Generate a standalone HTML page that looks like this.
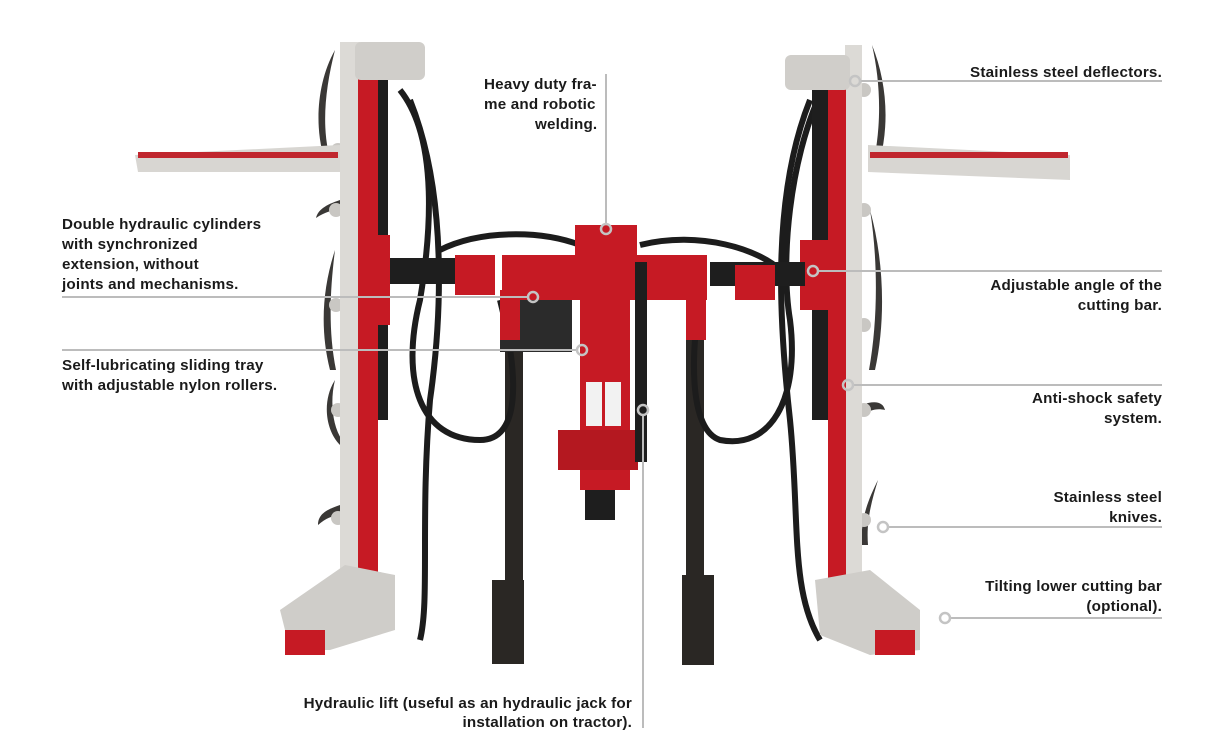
<!DOCTYPE html>
<html><head><meta charset="utf-8"><style>
html,body{margin:0;padding:0;background:#fff;}
svg{display:block}
text{font-family:"Liberation Sans",sans-serif;font-size:15.2px;font-weight:bold;fill:#1a1a1a;letter-spacing:0.2px}
</style></head><body>
<svg width="1230" height="736" viewBox="0 0 1230 736" xmlns="http://www.w3.org/2000/svg">
<!-- legs -->
<rect x="505" y="330" width="18" height="330" fill="#2a2724"/>
<rect x="492" y="580" width="32" height="84" fill="#2a2724"/>
<rect x="686" y="330" width="18" height="330" fill="#2a2724"/>
<rect x="682" y="575" width="32" height="90" fill="#2a2724"/>
<!-- hoses -->
<g fill="none" stroke="#1c1c1c" stroke-width="6">
<path d="M400 90 C440 140 430 240 420 300 C400 380 420 440 480 440 C520 440 520 380 500 300"/>
<path d="M410 100 C450 200 440 330 430 400 C420 520 430 600 420 640"/>
<path d="M820 95 C790 160 780 260 790 320 C800 400 770 450 720 440 C690 430 690 360 700 300"/>
<path d="M810 100 C770 200 780 330 790 420 C800 520 790 590 820 640"/>
<path d="M440 250 C480 230 540 230 580 245"/>
<path d="M640 245 C700 230 760 250 780 270"/>
</g>
<!-- knives -->
<g fill="#3a3836">
<path d="M335 50 C318 80 315 120 322 150 L328 150 C322 120 326 85 335 50Z"/>
<path d="M335 250 C322 290 320 330 330 370 L336 370 C328 330 330 290 335 250Z"/>
<path d="M335 380 C322 400 325 430 340 445 L342 440 C332 425 330 400 335 380Z"/>
<path d="M340 200 C325 205 318 210 316 218 C325 212 332 210 340 210Z"/>
<path d="M340 505 C325 510 318 515 318 525 C326 518 332 516 340 515Z"/>
<path d="M872 45 C886 80 890 120 880 160 L874 160 C882 120 880 80 872 45Z"/>
<path d="M870 210 C884 260 886 320 875 370 L869 370 C878 320 878 260 870 210Z"/>
<path d="M862 405 C875 400 883 402 885 410 C877 408 870 410 862 415Z"/>
<path d="M878 480 C868 500 860 520 862 545 L868 545 C866 520 872 500 878 480Z"/>
</g>
<g fill="#c9c7c3">
<circle cx="338" cy="150" r="7"/><circle cx="336" cy="210" r="7"/><circle cx="336" cy="305" r="7"/><circle cx="338" cy="410" r="7"/><circle cx="338" cy="518" r="7"/>
<circle cx="864" cy="90" r="7"/><circle cx="864" cy="210" r="7"/><circle cx="864" cy="325" r="7"/><circle cx="864" cy="410" r="7"/><circle cx="864" cy="520" r="7"/>
</g>
<!-- left assembly -->
<polygon points="135,155 340,145 340,172 138,172" fill="#d8d6d2"/>
<rect x="138" y="152" width="200" height="6" fill="#c0262e"/>
<rect x="372" y="80" width="16" height="340" fill="#1e1e1e"/>
<rect x="340" y="42" width="20" height="550" fill="#dcdad6"/>
<rect x="358" y="75" width="20" height="515" fill="#c61a24"/>
<rect x="355" y="42" width="70" height="38" rx="6" fill="#d0ceca"/>
<rect x="360" y="235" width="30" height="90" fill="#c61a24"/>
<polygon points="280,610 345,565 395,575 395,630 330,650 290,650" fill="#cfcdc9"/>
<rect x="285" y="630" width="40" height="25" fill="#c61a24"/>
<!-- right assembly -->
<polygon points="868,145 1070,155 1070,180 868,172" fill="#d8d6d2"/>
<rect x="870" y="152" width="198" height="6" fill="#c0262e"/>
<rect x="812" y="80" width="16" height="340" fill="#1e1e1e"/>
<rect x="845" y="45" width="17" height="555" fill="#dcdad6"/>
<rect x="828" y="75" width="18" height="520" fill="#c61a24"/>
<rect x="785" y="55" width="65" height="35" rx="6" fill="#d0ceca"/>
<rect x="800" y="240" width="30" height="70" fill="#c61a24"/>
<polygon points="815,580 870,570 920,610 920,650 870,655 820,635" fill="#cfcdc9"/>
<rect x="875" y="630" width="40" height="25" fill="#c61a24"/>
<!-- arms -->
<rect x="390" y="258" width="90" height="26" fill="#1e1e1e"/>
<rect x="710" y="262" width="95" height="24" fill="#1e1e1e"/>
<rect x="455" y="255" width="40" height="40" fill="#c61a24"/>
<rect x="735" y="265" width="40" height="35" fill="#c61a24"/>
<!-- center -->
<rect x="500" y="292" width="72" height="60" fill="#2b2b2b"/>
<rect x="502" y="255" width="205" height="45" fill="#c61a24"/>
<rect x="575" y="225" width="62" height="40" fill="#c61a24"/>
<rect x="500" y="290" width="20" height="50" fill="#c61a24"/>
<rect x="686" y="290" width="20" height="50" fill="#c61a24"/>
<rect x="580" y="300" width="50" height="190" fill="#c61a24"/>
<rect x="558" y="430" width="80" height="40" fill="#b41820"/>
<rect x="585" y="490" width="30" height="30" fill="#1e1e1e"/>
<rect x="586" y="382" width="16" height="44" fill="#f2f2f2"/>
<rect x="605" y="382" width="16" height="44" fill="#f2f2f2"/>
<rect x="635" y="262" width="12" height="200" fill="#1e1e1e"/>
<!-- callout lines -->
<g stroke="#bcbcbc" stroke-width="2" fill="none">
<line x1="606" y1="74" x2="606" y2="224"/>
<line x1="62" y1="297" x2="528" y2="297"/>
<line x1="62" y1="350" x2="577" y2="350"/>
<line x1="860" y1="81" x2="1162" y2="81"/>
<line x1="818" y1="271" x2="1162" y2="271"/>
<line x1="853" y1="385" x2="1162" y2="385"/>
<line x1="888" y1="527" x2="1162" y2="527"/>
<line x1="950" y1="618" x2="1162" y2="618"/>
<line x1="643" y1="415" x2="643" y2="728"/>
</g>
<g stroke="#c4c4c4" stroke-width="2.5" fill="none">
<circle cx="606" cy="229" r="5"/>
<circle cx="533" cy="297" r="5"/>
<circle cx="582" cy="350" r="5"/>
<circle cx="855" cy="81" r="5"/>
<circle cx="813" cy="271" r="5"/>
<circle cx="848" cy="385" r="5"/>
<circle cx="883" cy="527" r="5"/>
<circle cx="945" cy="618" r="5"/>
<circle cx="643" cy="410" r="5"/>
</g>
<!-- labels -->
<text x="484" y="89">Heavy duty fra-</text>
<text x="484" y="109">me and robotic</text>
<text x="535" y="129">welding.</text>
<text x="62" y="229">Double hydraulic cylinders</text>
<text x="62" y="249">with synchronized</text>
<text x="62" y="269">extension, without</text>
<text x="62" y="289">joints and mechanisms.</text>
<text x="62" y="370">Self-lubricating sliding tray</text>
<text x="62" y="390">with adjustable nylon rollers.</text>
<g text-anchor="end">
<text x="1162" y="77">Stainless steel deflectors.</text>
<text x="1162" y="290">Adjustable angle of the</text>
<text x="1162" y="310">cutting bar.</text>
<text x="1162" y="403">Anti-shock safety</text>
<text x="1162" y="423">system.</text>
<text x="1162" y="502">Stainless steel</text>
<text x="1162" y="522">knives.</text>
<text x="1162" y="591">Tilting lower cutting bar</text>
<text x="1162" y="611">(optional).</text>
<text x="632" y="708">Hydraulic lift (useful as an hydraulic jack for</text>
<text x="632" y="727">installation on tractor).</text>
</g>
</svg>
</body></html>
